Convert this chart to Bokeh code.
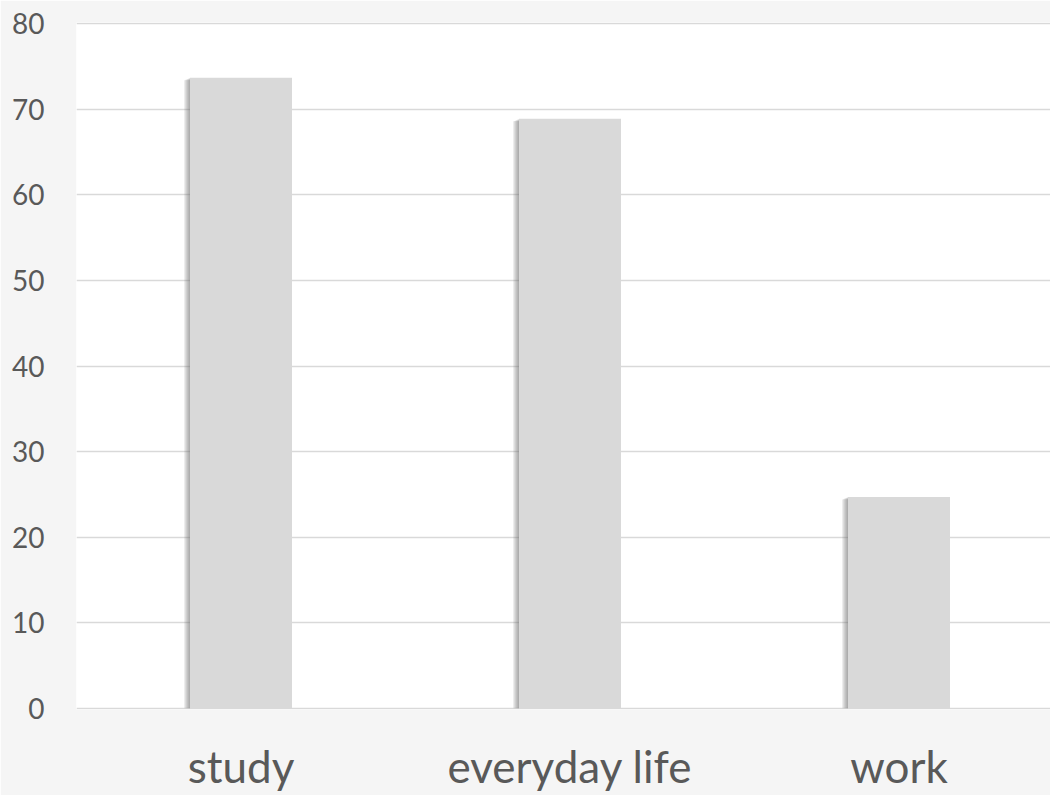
from bokeh.plotting import figure
from bokeh.models import Range1d, FixedTicker
from bokeh.embed import file_html
from bokeh.resources import INLINE

categories = ["study", "everyday life", "work"]
values = [73.7, 68.9, 24.7]
y_ticks = [0, 10, 20, 30, 40, 50, 60, 70, 80]

BG = "#f5f5f5"
TEXT = "#595959"
BAR = "#d9d9d9"
GRID = "#d9d9d9"
FONT = "Lato"

px = 1.0 / 329.0          # one screen pixel in x data units
bar_w = 0.31
xs = [i + 0.5 for i in range(len(categories))]

p = figure(width=1050, height=795, output_backend="svg", toolbar_location=None,
           x_range=Range1d(0, 974 * px), y_range=Range1d(-0.15, 80.15),
           min_border_left=76, min_border_right=0, min_border_top=22,
           min_border_bottom=86)
p.background_fill_color = "white"
p.border_fill_color = BG
p.outline_line_color = None

# soft shadow on the left of each bar
for k in range(1, 7):
    p.vbar(x=[x - bar_w / 2 - k * px / 2 for x in xs], width=k * px,
           top=[v - 0.3 * k / 6 for v in values], bottom=0,
           fill_color="#6f6f6f", fill_alpha=0.12, line_color=None)
p.vbar(x=xs, width=bar_w, top=values, bottom=0, fill_color=BAR, line_color=None)

p.xaxis.ticker = FixedTicker(ticks=xs)
p.xaxis.major_label_overrides = {x: c for x, c in zip(xs, categories)}
p.yaxis.ticker = FixedTicker(ticks=y_ticks)

for ax in (p.xaxis[0], p.yaxis[0]):
    ax.axis_line_color = None
    ax.major_tick_line_color = None
    ax.minor_tick_line_color = None
    ax.major_tick_out = 0
    ax.major_tick_in = 0
    ax.minor_tick_out = 0
    ax.minor_tick_in = 0
    ax.major_label_text_color = TEXT
    ax.major_label_text_font = FONT

p.yaxis.major_label_text_font_size = "28px"
p.yaxis.major_label_standoff = 32
p.xaxis.major_label_text_font_size = "44px"
p.xaxis.major_label_standoff = 30

p.xgrid.grid_line_color = None
p.ygrid.grid_line_color = GRID
p.ygrid.grid_line_width = 1.5

open("out.html", "w").write(file_html(p, INLINE))
